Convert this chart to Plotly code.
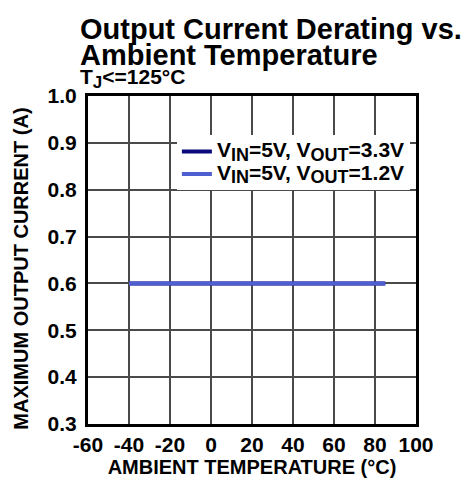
import plotly.graph_objects as go

temp_33 = [-40, 85]
current_33 = [0.6, 0.6]
temp_12 = [-40, 85]
current_12 = [0.6, 0.6]
series_names = ["V|IN|=5V, V|OUT|=3.3V", "V|IN|=5V, V|OUT|=1.2V"]
series_colors = ["#0a0a7a", "#4f5fcf"]
x_ticks = [-60, -40, -20, 0, 20, 40, 60, 80, 100]
y_ticks = [0.3, 0.4, 0.5, 0.6, 0.7, 0.8, 0.9, 1.0]

FONT = "Liberation Sans, Arial, sans-serif"


def with_subs(label, main_px, sub_px):
    parts = label.split("|")
    out = ""
    for i, p in enumerate(parts):
        if i % 2 == 1:
            out += f'<sub><span style="font-size:{sub_px}px">{p}</span></sub>'
        else:
            out += f'<span style="font-size:{main_px}px">{p}</span>'
    return "<b>" + out + "</b>"


fig = go.Figure()
fig.add_trace(go.Scatter(x=temp_33, y=current_33, mode="lines",
                         name=with_subs(series_names[0], 21, 18),
                         line=dict(color=series_colors[0], width=4)))
fig.add_trace(go.Scatter(x=temp_12, y=current_12, mode="lines",
                         name=with_subs(series_names[1], 21, 18),
                         line=dict(color=series_colors[1], width=4)))

fig.update_layout(
    width=463, height=479,
    margin=dict(l=80, r=55, t=88, b=63, autoexpand=False),
    paper_bgcolor="white", plot_bgcolor="white",
    font=dict(family=FONT, color="black", size=17),
    showlegend=True,
    legend=dict(x=0.271, y=0.88, xanchor="left", yanchor="top",
                bgcolor="white", borderwidth=0,
                font=dict(family=FONT, size=15, color="black"),
                tracegroupgap=0, itemwidth=30),
    annotations=[
        dict(text="<b>Output Current Derating vs.</b>",
             xref="paper", yref="paper", x=-0.03, y=1.0, xanchor="left", yanchor="middle",
             yshift=67, align="left", showarrow=False,
             font=dict(family=FONT, size=29, color="black")),
        dict(text="<b>Ambient Temperature</b>",
             xref="paper", yref="paper", x=-0.03, y=1.0, xanchor="left", yanchor="middle",
             yshift=41, align="left", showarrow=False,
             font=dict(family=FONT, size=29, color="black")),
        dict(text=with_subs("T|J|<=125°C", 21, 17),
             xref="paper", yref="paper", x=-0.03, y=1.0, xanchor="left", yanchor="middle",
             yshift=18, align="left", showarrow=False,
             font=dict(family=FONT, size=20, color="black")),
        dict(text="<b>MAXIMUM OUTPUT CURRENT (A)</b>", textangle=-90,
             xref="paper", yref="paper", x=-0.207, y=0.474, xanchor="center", yanchor="middle",
             showarrow=False, font=dict(family=FONT, size=20, color="black")),
    ],
)
fig.update_xaxes(range=[-60, 100], tickvals=x_ticks, ticktext=[f"<b>{v}</b>" for v in x_ticks],
                 showgrid=True, gridcolor="#4a4a4a", gridwidth=1.5,
                 showline=True, linecolor="black", linewidth=3, mirror=True,
                 ticks="", zeroline=False, automargin=False,
                 title=dict(text="<b>AMBIENT TEMPERATURE (°C)</b>", font=dict(size=20), standoff=4),
                 tickfont=dict(size=21))
fig.update_yaxes(range=[0.3, 1.0], tickvals=y_ticks, ticktext=[f"<b>{v:.1f}</b>" for v in y_ticks],
                 showgrid=True, gridcolor="#4a4a4a", gridwidth=1.5,
                 showline=True, linecolor="black", linewidth=3, mirror=True,
                 ticks="", zeroline=False, automargin=False, ticklabelstandoff=4,
                 tickfont=dict(size=21))
fig.update_layout(yaxis2=dict(overlaying="y", side="right", matches="y", range=[0.3, 1.0],
                              tickvals=y_ticks, showticklabels=False, ticks="outside",
                              ticklen=5, tickwidth=1.5, tickcolor="#4a4a4a",
                              showgrid=False, zeroline=False, showline=False))

fig.write_html("out.html")
